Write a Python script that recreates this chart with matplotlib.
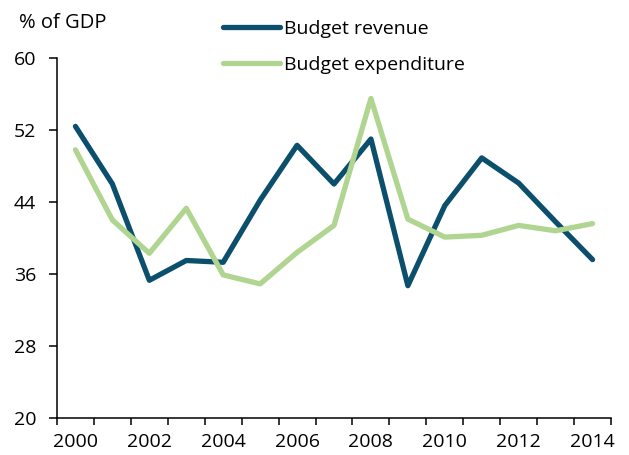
import numpy as np
import matplotlib
matplotlib.use("Agg")
import matplotlib.pyplot as plt

# ================= DATA =================
years = list(range(2000, 2015))
revenue = [52.4, 46.0, 35.3, 37.5, 37.3, 44.2, 50.3, 46.0, 51.0, 34.7, 43.6, 48.9, 46.1, 41.8, 37.6]
expenditure = [49.8, 42.0, 38.3, 43.3, 35.9, 34.9, 38.4, 41.4, 55.5, 42.1, 40.1, 40.3, 41.4, 40.8, 41.6]
y_ticks = [20, 28, 36, 44, 52, 60]

REV_COLOR = "#0B4F6C"
EXP_COLOR = "#AFD590"

plt.rcParams["font.family"] = ["Open Sans", "DejaVu Sans"]
plt.rcParams["font.size"] = 14

fig = plt.figure(figsize=(6.29, 4.55), dpi=100)
ax = fig.add_axes([57 / 629, 1 - 418 / 455, (611 - 57) / 629, (418 - 58) / 455])

x = np.arange(len(years))
ax.plot(x, revenue, color=REV_COLOR, lw=3.8, solid_capstyle="round",
        solid_joinstyle="round", label="Budget revenue")
ax.plot(x, expenditure, color=EXP_COLOR, lw=3.8, solid_capstyle="round",
        solid_joinstyle="round", label="Budget expenditure")

ax.set_xlim(-0.5, len(years) - 0.5)
ax.set_ylim(20, 60)
ax.set_yticks(y_ticks)

# labels every other year, tick marks between categories
ax.set_xticks(x[::2])
ax.set_xticklabels([str(y) for y in years[::2]])
ax.set_xticks(np.arange(-0.5, len(years)), minor=True)
ax.tick_params(axis="x", which="major", length=0, pad=11)
ax.tick_params(axis="x", which="minor", length=5, width=1.1, direction="out")
ax.tick_params(axis="y", length=6, width=1.1, pad=9)

for side in ["top", "right"]:
    ax.spines[side].set_visible(False)
for side in ["left", "bottom"]:
    ax.spines[side].set_linewidth(1.1)

fig.text(19 / 629, 1 - 23 / 455, "% of GDP", ha="left", va="center", fontsize=14.5)

fig.legend(loc="upper left", bbox_to_anchor=(205 / 629, 1 - 2 / 455),
           frameon=False, handlelength=2.95, handletextpad=0.2,
           labelspacing=0.95)

fig.savefig("out.png", dpi=100)
